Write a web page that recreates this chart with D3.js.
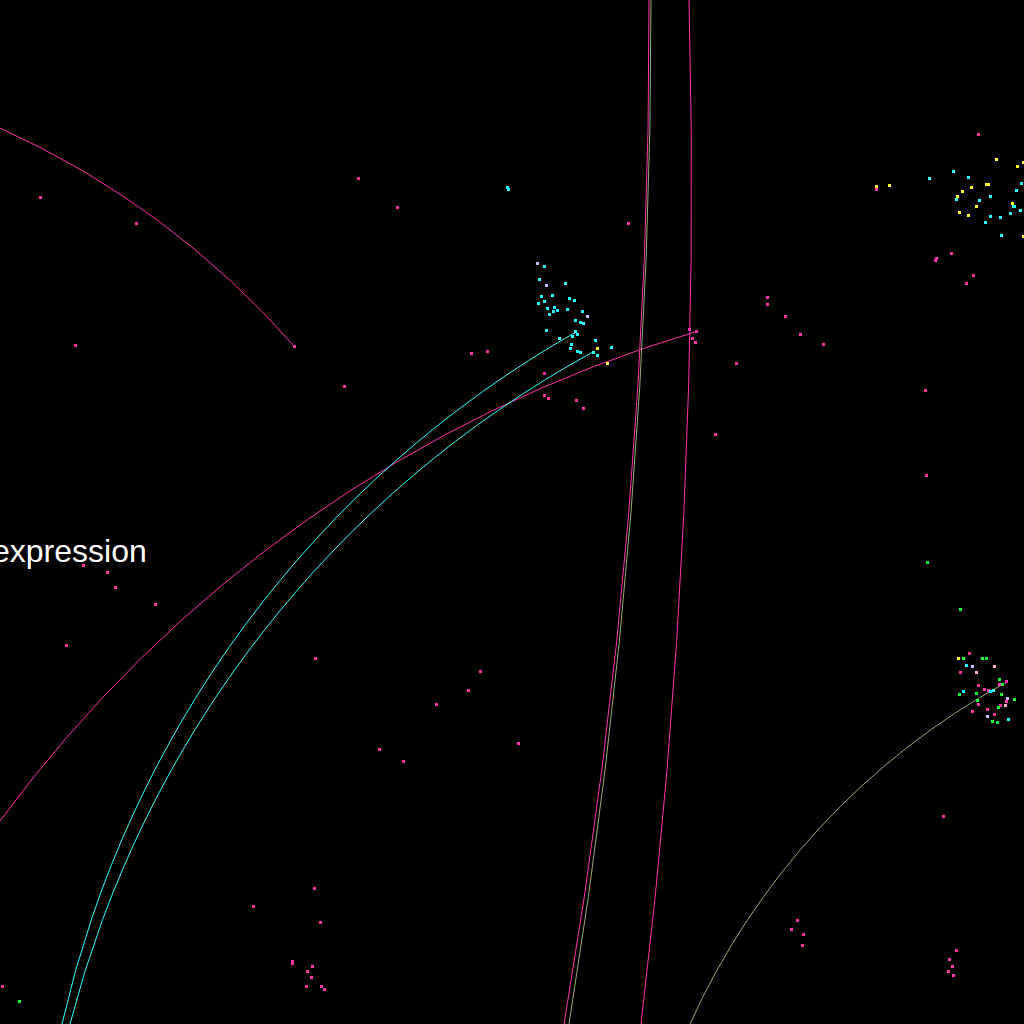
<!DOCTYPE html>
<html>
<head>
<meta charset="utf-8">
<script src="https://cdn.jsdelivr.net/npm/d3@7"></script>
<style>
html,body{margin:0;padding:0;background:#000;overflow:hidden;}
svg{display:block;}
</style>
</head>
<body>
<svg id="chart" width="1024" height="1024"></svg>
<script>
// ---- data (positions in layout units) ----
const labelText = "expression";
const labelPos = [-8, 562];

const magentaNodes = [
  [40,197],[136,223],[75,345],[294,346],[358,178],[397,207],[344,386],[471,353],[487,351],[628,223],
  [544,373],[544,395],[548,398],[576,400],[583,408],
  [689,329],[696,331],[692,338],[695,342],
  [767,297],[767,304],[785,316],[800,334],[823,344],[736,363],[925,390],[715,434],[926,475],
  [978,134],[876,189],[951,253],[936,258],[935,260],[973,275],[966,283],
  [969,653],[960,672],[1006,681],[978,685],[999,684],[984,689],[988,690],[1006,701],[978,704],[1000,705],[987,709],[972,711],[994,714],
  [83,565],[107,572],[115,587],[155,604],[66,645],
  [315,658],[480,671],[468,690],[436,704],[518,743],[379,749],[403,761],
  [314,888],[253,906],[320,922],[292,961],[292,963],[312,966],[307,971],[311,977],[306,986],[321,986],[324,989],
  [943,816],[797,920],[791,929],[803,934],[802,945],[956,950],[949,959],[952,966],[948,971],[953,975],
  [2,986]
];
const cyanNodes = [
  [507,187],[508,189],
  [544,266],[539,279],[565,283],[541,296],[552,295],[569,298],[574,300],[538,303],[544,301],[547,308],
  [554,307],[557,310],[553,311],[549,314],[567,309],[582,311],[575,320],[580,322],[583,323],[546,330],
  [575,331],[577,334],[572,336],[559,338],[595,340],[571,344],[570,348],[611,347],[577,351],[580,352],
  [593,352],[597,355],
  [929,178],[953,171],[968,177],[1021,183],[1016,190],[990,196],[956,199],[979,200],[1013,206],[1014,206],
  [1020,210],[990,216],[1000,217],[1010,213],[985,222],[1001,235],
  [966,665],[990,691],[993,690],[963,691],[1008,719]
];
const yellowNodes = [
  [597,348],[607,363],
  [876,186],[889,185],[996,159],[1017,166],[1023,162],[988,184],[986,184],[971,187],[962,191],[957,196],
  [976,206],[1012,203],[959,212],[968,215],[1023,236],
  [958,658]
];
const greenNodes = [
  [927,562],[960,609],[963,658],[982,658],[986,658],[999,679],[1002,684],[976,693],[959,694],[1001,694],
  [977,700],[1014,699],[998,707],[992,721],[997,722],[19,1001]
];
const lilacNodes = [[537,263],[546,285],[587,316],[972,666],[1007,698],[987,716]];
const pinkNodes = [[976,672],[994,666],[1005,705]];

// links: [start, a point on the curve, end]; each edge is drawn as a circular arc through them
const linkMagentaTop   = [[0,128],[150,215],[294,346]];
const linkMagentaLong  = [[0,821],[500,407],[695,332]];
const linkCyanLeft     = [[62,1024],[160,760],[576,332]];
const linkCyanRight    = [[70,1024],[177,760],[593,352]];
const linkMagentaVertA = [[649,0],[635,430],[564,1024]];
const linkOliveVert    = [[651,0],[637,430],[569,1024]];
const linkMagentaVertB = [[689,0],[690,330],[641,1024]];
const linkOliveArc     = [[690,1024],[830,817],[1005,683]];

const links = [
  {pts: linkMagentaTop,   color: "#ff33aa"},
  {pts: linkMagentaLong,  color: "#ff33aa"},
  {pts: linkCyanLeft,     color: "#33ffff"},
  {pts: linkCyanRight,    color: "#33ffff"},
  {pts: linkOliveVert,    color: "#99aa77"},
  {pts: linkMagentaVertA, color: "#ff33aa"},
  {pts: linkMagentaVertB, color: "#ff33aa"},
  {pts: linkOliveArc,     color: "#99aa77"}
];
const nodeGroups = [
  {nodes: magentaNodes, color: "#ff33aa"},
  {nodes: cyanNodes,    color: "#22ffff"},
  {nodes: yellowNodes,  color: "#ffff22"},
  {nodes: greenNodes,   color: "#11ff33"},
  {nodes: lilacNodes,   color: "#ccbbff"},
  {nodes: pinkNodes,    color: "#ffaacc"}
];

// ---- drawing ----
const W = 1024, H = 1024;
const x = d3.scaleLinear().domain([0, 1024]).range([0, W]);
const y = d3.scaleLinear().domain([0, 1024]).range([0, H]);
const svg = d3.select("#chart");
svg.append("rect").attr("width", W).attr("height", H).attr("fill", "#000");

function arcThrough(p) {
  const A = [x(p[0][0]), y(p[0][1])], M = [x(p[1][0]), y(p[1][1])], B = [x(p[2][0]), y(p[2][1])];
  const d = 2 * (A[0]*(M[1]-B[1]) + M[0]*(B[1]-A[1]) + B[0]*(A[1]-M[1]));
  const a2 = A[0]*A[0]+A[1]*A[1], m2 = M[0]*M[0]+M[1]*M[1], b2 = B[0]*B[0]+B[1]*B[1];
  const cx = (a2*(M[1]-B[1]) + m2*(B[1]-A[1]) + b2*(A[1]-M[1])) / d;
  const cy = (a2*(B[0]-M[0]) + m2*(A[0]-B[0]) + b2*(M[0]-A[0])) / d;
  const r = Math.hypot(A[0]-cx, A[1]-cy);
  const cross = (M[0]-A[0])*(B[1]-A[1]) - (M[1]-A[1])*(B[0]-A[0]);
  const sweep = cross > 0 ? 1 : 0;
  const path = d3.path();
  path.moveTo(A[0], A[1]);
  return path.toString() + `A${r},${r} 0 0,${sweep} ${B[0]},${B[1]}`;
}

svg.append("g").selectAll("path").data(links).join("path")
  .attr("d", d => arcThrough(d.pts))
  .attr("fill", "none")
  .attr("stroke", d => d.color)
  .attr("stroke-width", 1);

const g = svg.append("g");
nodeGroups.forEach(grp => {
  g.append("g").selectAll("rect").data(grp.nodes).join("rect")
    .attr("x", d => Math.round(x(d[0])) - 1)
    .attr("y", d => Math.round(y(d[1])) - 1)
    .attr("width", 3).attr("height", 3)
    .attr("fill", grp.color)
    .attr("shape-rendering", "crispEdges");
});

svg.append("text")
  .attr("x", x(labelPos[0])).attr("y", y(labelPos[1]))
  .attr("fill", "#ffffff")
  .attr("font-family", "Liberation Sans, Arial, sans-serif")
  .attr("font-size", 32)
  .text(labelText);
</script>
</body>
</html>
